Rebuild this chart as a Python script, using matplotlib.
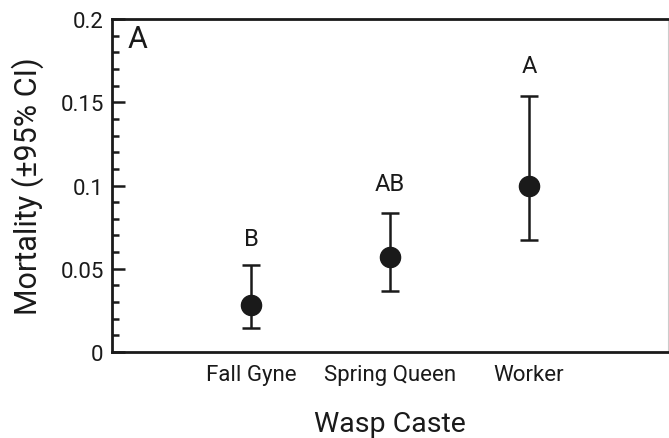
import matplotlib
matplotlib.use("Agg")
import matplotlib.pyplot as plt
from matplotlib.ticker import MultipleLocator

categories = ["Fall Gyne", "Spring Queen", "Worker"]
mortality = [0.028, 0.057, 0.100]
ci_lower = [0.0145, 0.0365, 0.067]
ci_upper = [0.0525, 0.0835, 0.1535]
letters = ["B", "AB", "A"]
letter_y = [0.068, 0.101, 0.172]

plt.rcParams['font.family'] = ['Roboto', 'DejaVu Sans']
fig = plt.figure(figsize=(6.69, 4.39), dpi=100)
ax = fig.add_axes([0.1674, 0.1959, 0.8311, 0.7585])

x = [1, 2, 3]
yerr = [[m - l for m, l in zip(mortality, ci_lower)],
        [u - m for m, u in zip(mortality, ci_upper)]]
ax.errorbar(x, mortality, yerr=yerr, fmt='o', color='#1a1a1a', ms=14.5,
            elinewidth=1.8, capsize=6.2, capthick=1.8, zorder=3)
for xi, lab, ly in zip(x, letters, letter_y):
    ax.text(xi, ly, lab, ha='center', va='center', fontsize=17, color='#1a1a1a')

ax.set_xlim(0, 4)
ax.set_ylim(0, 0.2)
ax.set_xticks(x)
ax.set_xticklabels(categories)
ax.set_yticks([0, 0.05, 0.1, 0.15, 0.2])
ax.set_yticklabels(["0", "0.05", "0.1", "0.15", "0.2"])
ax.yaxis.set_minor_locator(MultipleLocator(0.01))
ax.tick_params(axis='y', which='major', direction='in', length=9, width=1.8,
               labelsize=16, pad=6, color='#1a1a1a', labelcolor='#1a1a1a')
ax.tick_params(axis='y', which='minor', direction='in', length=5, width=1.8,
               color='#1a1a1a')
ax.tick_params(axis='x', length=0, labelsize=16, pad=9, labelcolor='#1a1a1a')

for s in ['left', 'bottom', 'top']:
    ax.spines[s].set_linewidth(2)
    ax.spines[s].set_color('#1a1a1a')
ax.spines['right'].set_linewidth(0.8)
ax.spines['right'].set_color('#cccccc')

ax.set_xlabel("Wasp Caste", fontsize=20.5, labelpad=18, color='#1a1a1a')
ax.set_ylabel("Mortality (±95% CI)", fontsize=22, labelpad=12, color='#1a1a1a')
ax.text(0.028, 0.94, "A", transform=ax.transAxes, fontsize=22,
        ha='left', va='center', color='#1a1a1a')

fig.savefig("out.png", dpi=100)
